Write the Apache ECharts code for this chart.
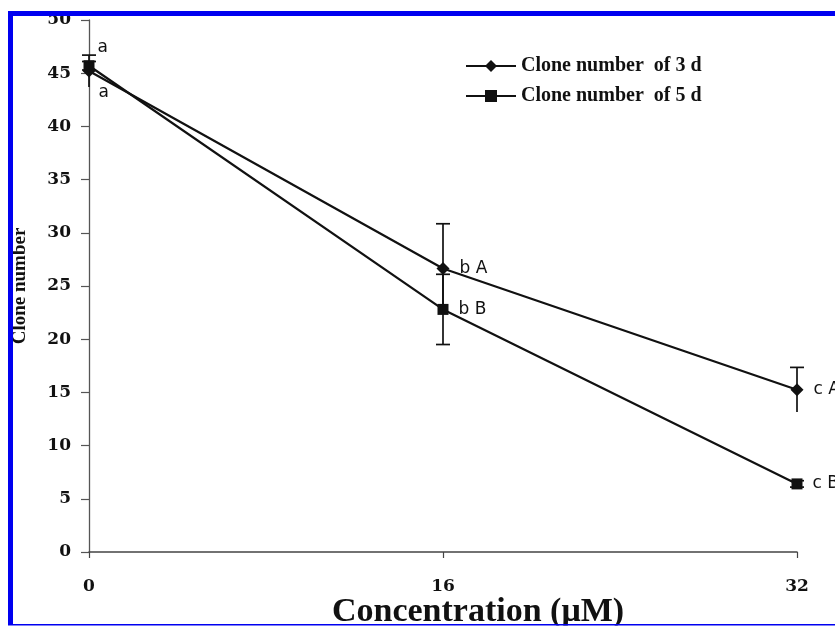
<!DOCTYPE html>
<html>
<head>
<meta charset="utf-8">
<script src="https://cdn.jsdelivr.net/npm/echarts@6/dist/echarts.min.js"></script>
<style>
  html, body { margin: 0; padding: 0; background: #fff; }
  #chart { width: 835px; height: 628px; }
</style>
</head>
<body>
<div id="chart"></div>
<script>
// Concentrations tested (µM) and mean clone counts with their error ranges
const conc = [0, 16, 32];
const clone3d = [45.2, 26.65, 15.25];
const clone5d = [45.7, 22.8, 6.4];
const err3d = [1.5, 4.2, 2.1];
const err5d = [0.4, 3.3, 0.3];
// Significance letters shown beside each point
const letters3d = ['a', 'b A', 'c A'];
const letters5d = ['a', 'b B', 'c B'];
const yTicks = [0, 5, 10, 15, 20, 25, 30, 35, 40, 45, 50];
const xTicks = [0, 16, 32];

const name3d = 'Clone number  of 3 d';
const name5d = 'Clone number  of 5 d';

const ink = '#111';
const letterFont = { fontFamily: 'DejaVu Sans', fontSize: 17, color: ink };

function pointData(values, letters, firstOffsetY) {
  return conc.map((c, i) => ({
    value: [c, values[i]],
    label: {
      show: true,
      position: 'right',
      distance: i === 0 ? 3 : 10,
      offset: i === 0 ? [0, firstOffsetY] : [0, 0],
      formatter: letters[i],
      ...letterFont
    }
  }));
}

// Vertical error bar; cap drawn at the top, and at the bottom when asked
function errorBar(capLow) {
  return function (params, api) {
    const x = api.value(0), y = api.value(1), e = api.value(2);
    const hi = api.coord([x, y + e]);
    const lo = api.coord([x, y - e]);
    const hw = 7;
    const style = { stroke: ink, lineWidth: 1.7, fill: null };
    const children = [
      { type: 'line', shape: { x1: hi[0], y1: hi[1], x2: lo[0], y2: lo[1] }, style },
      { type: 'line', shape: { x1: hi[0] - hw, y1: hi[1], x2: hi[0] + hw, y2: hi[1] }, style }
    ];
    if (capLow) {
      children.push({ type: 'line', shape: { x1: lo[0] - hw, y1: lo[1], x2: lo[0] + hw, y2: lo[1] }, style });
    }
    return { type: 'group', children };
  };
}

const chart = echarts.init(document.getElementById('chart'), null, { renderer: 'canvas' });

chart.setOption({
  backgroundColor: '#fff',
  animation: false,
  grid: { left: 89, right: 38, top: 20, bottom: 76, containLabel: false, outerBoundsMode: 'none' },
  legend: {
    data: [name3d, name5d],
    orient: 'vertical',
    left: 460,
    top: 51,
    padding: 5,
    itemWidth: 50,
    itemHeight: 15,
    itemGap: 10,
    textStyle: { fontFamily: 'Liberation Serif', fontWeight: 'bold', fontSize: 20, color: ink, lineHeight: 20 }
  },
  xAxis: {
    type: 'value',
    min: xTicks[0],
    max: xTicks[xTicks.length - 1],
    interval: xTicks[1] - xTicks[0],
    name: 'Concentration (μM)',
    nameLocation: 'middle',
    nameGap: 43,
    nameMoveOverlap: false,
    nameTextStyle: {
      fontFamily: 'Liberation Serif', fontWeight: 'bold', fontSize: 34, color: ink,
      padding: [0, 0, 0, 70]
    },
    axisLine: { lineStyle: { color: '#444', width: 1.5 } },
    axisTick: { show: true, length: 6, lineStyle: { color: '#444', width: 1.2 } },
    axisLabel: { margin: 26, fontFamily: 'DejaVu Serif', fontWeight: 'bold', fontSize: 17, color: ink },
    splitLine: { show: false }
  },
  yAxis: {
    type: 'value',
    min: yTicks[0],
    max: yTicks[yTicks.length - 1],
    interval: yTicks[1] - yTicks[0],
    name: 'Clone number',
    nameLocation: 'middle',
    nameGap: 59,
    nameMoveOverlap: false,
    nameTextStyle: { fontFamily: 'Liberation Serif', fontWeight: 'bold', fontSize: 19, color: ink },
    axisLine: { show: true, lineStyle: { color: '#555', width: 1.3 } },
    axisTick: { show: true, length: 8, lineStyle: { color: '#555', width: 1.2 } },
    axisLabel: { margin: 18, fontFamily: 'DejaVu Serif', fontWeight: 'bold', fontSize: 17, color: ink },
    splitLine: { show: false }
  },
  series: [
    {
      type: 'line',
      name: name3d,
      data: pointData(clone3d, letters3d, 22),
      symbol: 'diamond',
      symbolSize: 13,
      showAllSymbol: true,
      lineStyle: { color: ink, width: 2.2 },
      itemStyle: { color: ink },
      z: 3
    },
    {
      type: 'line',
      name: name5d,
      data: pointData(clone5d, letters5d, -18),
      symbol: 'rect',
      symbolSize: 11,
      showAllSymbol: true,
      lineStyle: { color: ink, width: 2.2 },
      itemStyle: { color: ink },
      z: 3
    },
    {
      type: 'custom',
      name: 'err3d',
      data: conc.map((c, i) => [c, clone3d[i], err3d[i]]),
      encode: { x: 0, y: 1 },
      renderItem: errorBar(false),
      clip: false,
      z: 4
    },
    {
      type: 'custom',
      name: 'err5d',
      data: conc.map((c, i) => [c, clone5d[i], err5d[i]]),
      encode: { x: 0, y: 1 },
      renderItem: errorBar(true),
      clip: false,
      z: 4
    }
  ],
  graphic: [
    // blue frame around the figure
    { type: 'rect', z: 100, shape: { x: 8, y: 11, width: 827, height: 5 }, style: { fill: '#0000f0' } },
    { type: 'rect', z: 100, shape: { x: 8, y: 11, width: 5, height: 614 }, style: { fill: '#0000f0' } },
    { type: 'rect', z: 100, shape: { x: 0, y: 625.5, width: 835, height: 3 }, style: { fill: '#fff' } },
    { type: 'rect', z: 101, shape: { x: 8, y: 624, width: 827, height: 1.5 }, style: { fill: '#0000f0' } }
  ]
});
</script>
</body>
</html>
